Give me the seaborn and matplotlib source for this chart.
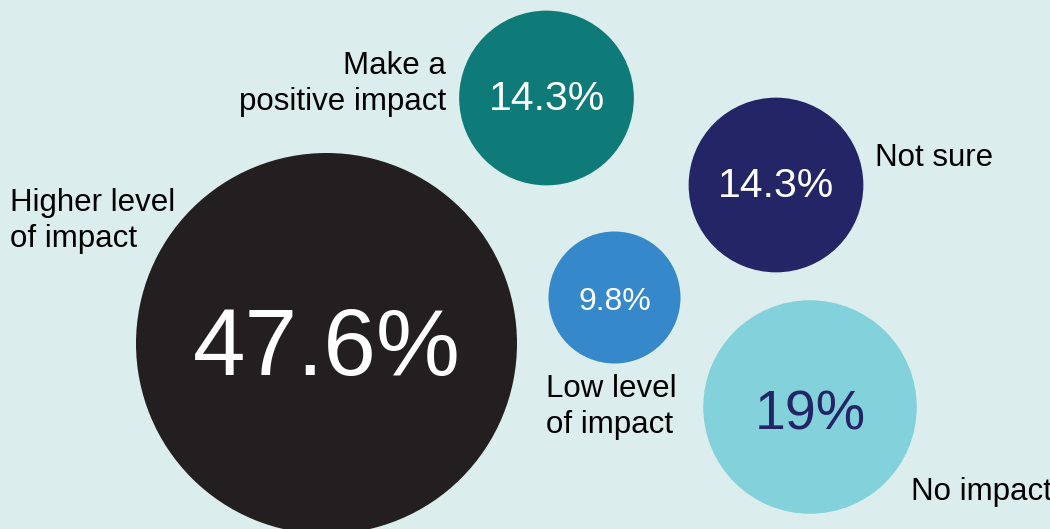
import matplotlib
matplotlib.use("Agg")
import matplotlib.pyplot as plt
from matplotlib.colors import PowerNorm
import pandas as pd
import seaborn as sns

# ---- data -------------------------------------------------------------
categories = [
    "Higher level of impact",
    "Make a positive impact",
    "Not sure",
    "Low level of impact",
    "No impact",
]
values = [47.6, 14.3, 14.3, 9.8, 19.0]
value_labels = ["47.6%", "14.3%", "14.3%", "9.8%", "19%"]
category_labels = [
    "Higher level\nof impact",
    "Make a\npositive impact",
    "Not sure",
    "Low level\nof impact",
    "No impact",
]

# ---- layout (pixel space, origin top-left) ----------------------------
bubble_x = [326.5, 546.5, 776.0, 614.5, 810.0]
bubble_y = [343.5, 98.0, 185.0, 297.5, 407.0]

# category label anchor (x, last-line baseline y, horizontal alignment)
label_pos = [
    (10, 247, "left"),
    (446, 110, "right"),
    (875, 166, "left"),
    (546, 433, "left"),
    (911, 500, "left"),
]
# value label baseline offset from the bubble centre
value_dy = [31.5, 12.0, 12.0, 12.5, 23.0]
value_fs = [68, 29.5, 29.5, 23, 40]

palette = {
    "Higher level of impact": "#231f20",
    "Make a positive impact": "#0f7b79",
    "Not sure": "#242567",
    "Low level of impact": "#3588c9",
    "No impact": "#83d1db",
}
value_colors = ["white", "white", "white", "white", "#242567"]
bg = "#dcedee"

W, H, DPI = 1050, 529, 100
PX2PT = 72 / DPI


def marker_area(radius_px):
    d = 2 * radius_px * PX2PT
    return d * d


df = pd.DataFrame({
    "category": categories,
    "value": values,
    "x": bubble_x,
    "y": bubble_y,
})

sns.set_theme(style="white")
plt.rcParams["font.family"] = ["Liberation Sans", "DejaVu Sans"]

fig = plt.figure(figsize=(W / DPI, H / DPI), dpi=DPI, facecolor=bg)
ax = fig.add_axes([0, 0, 1, 1])
ax.set_facecolor(bg)

sns.scatterplot(
    data=df, x="x", y="y", hue="category", palette=palette,
    size="value", sizes=(marker_area(66), marker_area(190.5)),
    size_norm=PowerNorm(gamma=1.07, vmin=min(values), vmax=max(values)),
    linewidth=0, alpha=1, legend=False, ax=ax, zorder=2,
)

ax.set_xlim(0, W)
ax.set_ylim(H, 0)
ax.axis("off")

for i in range(len(categories)):
    ax.text(bubble_x[i], bubble_y[i] + value_dy[i], value_labels[i],
            ha="center", va="baseline", fontsize=value_fs[i],
            color=value_colors[i], zorder=3)
    lx, ly, ha = label_pos[i]
    ax.text(lx, ly, category_labels[i], ha=ha, va="baseline",
            fontsize=22.5, color="black", linespacing=1.25,
            multialignment=ha, zorder=3)

fig.savefig("out.png", dpi=DPI, facecolor=bg)
